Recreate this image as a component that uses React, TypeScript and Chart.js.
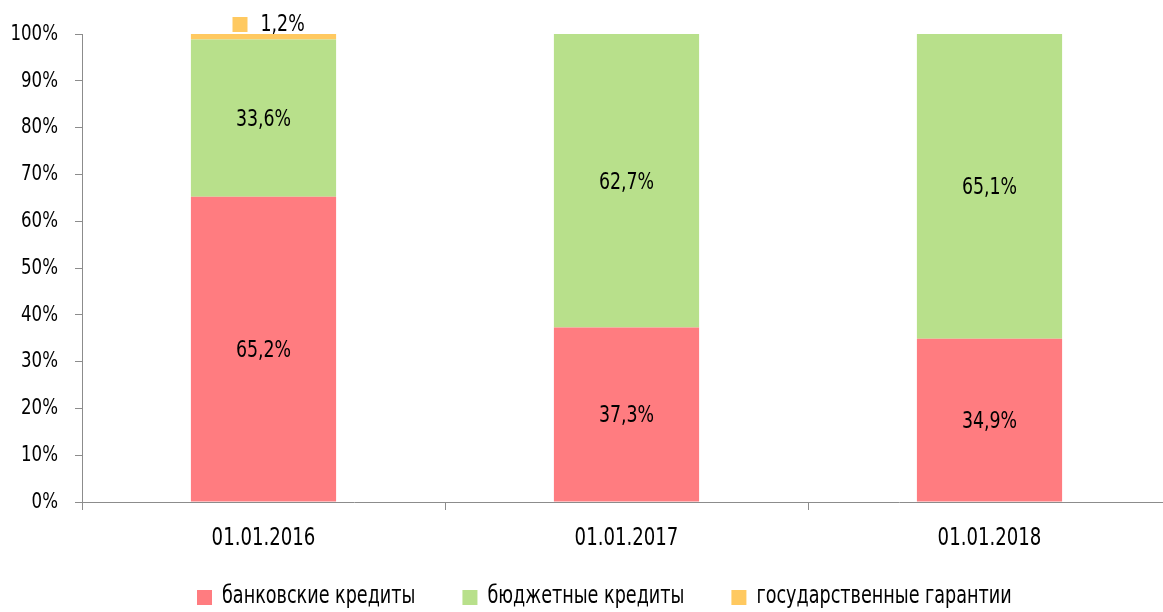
import React, { useEffect, useRef } from "react";
import { Chart, registerables } from "chart.js";

Chart.register(...registerables);

const categories = ["01.01.2016", "01.01.2017", "01.01.2018"];
const seriesNames = ["банковские кредиты", "бюджетные кредиты", "государственные гарантии"];
const bankLoans = [65.2, 37.3, 34.9];
const budgetLoans = [33.6, 62.7, 65.1];
const stateGuarantees = [1.2, 0, 0];
const yTicks = [0, 10, 20, 30, 40, 50, 60, 70, 80, 90, 100];
const colors = ["#FF7C80", "#B8E08B", "#FFC960"];

const FONT = '"DejaVu Sans Condensed", "DejaVu Sans", sans-serif';
const AXIS = "#8c8c8c";
const SX = 0.84;

const fmt = (v: number) => v.toFixed(1).replace(".", ",") + "%";

function narrowText(ctx: any, text: string, x: number, y: number, align: string, size: number, sx: number) {
  ctx.save();
  ctx.font = `${size}px ${FONT}`;
  ctx.textBaseline = "middle";
  ctx.textAlign = align;
  ctx.fillStyle = "#000";
  ctx.translate(x, y);
  ctx.scale(sx, 1);
  ctx.fillText(text, 0, 0);
  ctx.restore();
}

function narrowWidth(ctx: any, text: string, size: number, sx: number) {
  ctx.save();
  ctx.font = `${size}px ${FONT}`;
  const w = ctx.measureText(text).width * sx;
  ctx.restore();
  return w;
}

const labelsPlugin = {
  id: "customLabels",
  afterDatasetsDraw(chart: any) {
    const ctx = chart.ctx;
    chart.data.datasets.forEach((ds: any, di: number) => {
      const meta = chart.getDatasetMeta(di);
      meta.data.forEach((el: any, i: number) => {
        const v = ds.data[i];
        if (!v) return;
        if (di < 2) {
          const mid = (el.y + el.base) / 2;
          narrowText(ctx, fmt(v), el.x, mid + 2, "center", 23, SX);
        } else {
          ctx.save();
          ctx.fillStyle = colors[2];
          ctx.fillRect(el.x - 31, el.y - 17, 15, 15);
          ctx.restore();
          narrowText(ctx, fmt(v), el.x - 3, el.y - 9, "left", 23, SX);
        }
      });
    });
  },
  afterDraw(chart: any) {
    const ctx = chart.ctx;
    const ys = chart.scales.y;
    const xs = chart.scales.x;
    yTicks.forEach((v) => {
      narrowText(ctx, v + "%", 58, ys.getPixelForValue(v), "right", 22, SX);
    });
    categories.forEach((c, i) => {
      narrowText(ctx, c, xs.getPixelForValue(i), 539, "center", 24, SX);
    });
    let x = 197;
    const y = 597;
    seriesNames.forEach((name, i) => {
      ctx.save();
      ctx.fillStyle = colors[i];
      ctx.fillRect(x, y - 7, 15, 15);
      ctx.restore();
      narrowText(ctx, name, x + 25, y, "left", 24, 0.815);
      x += 25 + narrowWidth(ctx, name, 24, 0.815) + 47;
    });
  },
};

export default function App() {
  const ref = useRef<HTMLCanvasElement>(null);
  useEffect(() => {
    if (!ref.current) return;
    const chart = new Chart(ref.current, {
      type: "bar",
      data: {
        labels: categories,
        datasets: [
          { label: seriesNames[0], data: bankLoans, backgroundColor: colors[0] },
          { label: seriesNames[1], data: budgetLoans, backgroundColor: colors[1] },
          { label: seriesNames[2], data: stateGuarantees, backgroundColor: colors[2] },
        ],
      },
      options: {
        animation: false,
        responsive: false,
        maintainAspectRatio: false,
        layout: { padding: { left: 0, top: 34, right: 1, bottom: 0 } },
        datasets: { bar: { categoryPercentage: 1, barPercentage: 0.4 } },
        plugins: { legend: { display: false }, tooltip: { enabled: false } },
        scales: {
          x: {
            stacked: true,
            afterFit: (s: any) => { s.height = 110; },
            border: { color: AXIS, width: 1 },
            grid: { offset: true, drawOnChartArea: false, tickLength: 8, color: AXIS },
            ticks: { display: false },
          },
          y: {
            stacked: true,
            min: 0,
            max: 100,
            afterFit: (s: any) => { s.width = 82; },
            afterBuildTicks: (s: any) => { s.ticks = yTicks.map((v) => ({ value: v })); },
            border: { color: AXIS, width: 1 },
            grid: { drawOnChartArea: false, tickLength: 7, color: AXIS },
            ticks: { display: false },
          },
        },
      },
      plugins: [labelsPlugin],
    });
    return () => chart.destroy();
  }, []);
  return (
    <div style={{ position: "absolute", left: 0, top: 0, width: 1163, height: 612, overflow: "hidden", background: "#fff" }}>
      <canvas ref={ref} width={1172} height={612} style={{ width: 1172, height: 612, display: "block" }} />
    </div>
  );
}
